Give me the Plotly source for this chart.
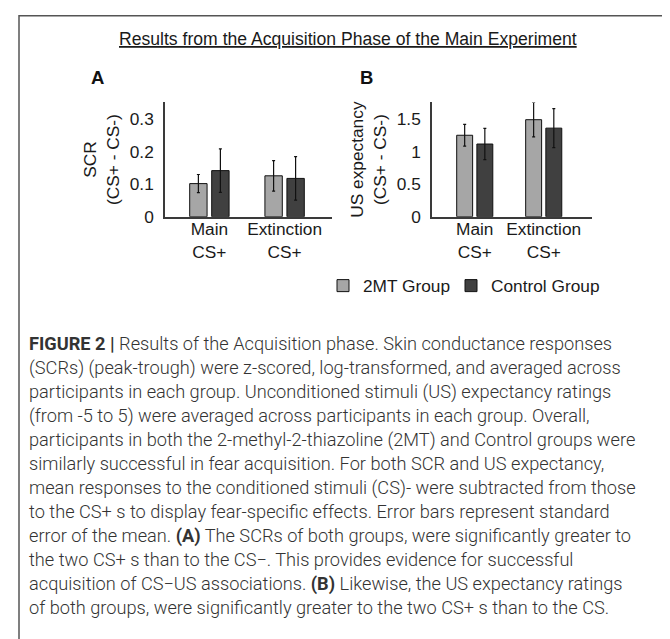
import plotly.graph_objects as go

W, H = 670, 639

# ---------------- data ----------------
categories = ["Main CS+", "Extinction CS+"]
category_labels = ["Main<br>CS+", "Extinction<br>CS+"]
groups = ["2MT Group", "Control Group"]

scr_2mt = [0.102, 0.126]
scr_2mt_se = [0.028, 0.047]
scr_ctrl = [0.142, 0.118]
scr_ctrl_se = [0.067, 0.067]

us_2mt = [1.255, 1.495]
us_2mt_se = [0.167, 0.265]
us_ctrl = [1.12, 1.365]
us_ctrl_se = [0.24, 0.30]

scr_ticks = [0, 0.1, 0.2, 0.3]
scr_ticktext = ["0", "0.1", "0.2", "0.3"]
us_ticks = [0, 0.5, 1, 1.5]
us_ticktext = ["0", "0.5", "1", "1.5"]

title_text = "Results from the Acquisition Phase of the Main Experiment"
caption_lines = [
    "<b>FIGURE 2 |</b> Results of the Acquisition phase. Skin conductance responses",
    "(SCRs) (peak-trough) were z-scored, log-transformed, and averaged across",
    "participants in each group. Unconditioned stimuli (US) expectancy ratings",
    "(from -5 to 5) were averaged across participants in each group. Overall,",
    "participants in both the 2-methyl-2-thiazoline (2MT) and Control groups were",
    "similarly successful in fear acquisition. For both SCR and US expectancy,",
    "mean responses to the conditioned stimuli (CS)- were subtracted from those",
    "to the CS+ s to display fear-specific effects. Error bars represent standard",
    "error of the mean. <b>(A)</b> The SCRs of both groups, were significantly greater to",
    "the two CS+ s than to the CS\u2212. This provides evidence for successful",
    "acquisition of CS\u2212US associations. <b>(B)</b> Likewise, the US expectancy ratings",
    "of both groups, were significantly greater to the two CS+ s than to the CS.",
]

# ---------------- styling ----------------
C_2MT = "#a6a6a6"
C_CTRL = "#404040"
ARIAL = "Liberation Sans, Arial, sans-serif"
AX_FONT = dict(family=ARIAL, size=17.3, color="#1a1a1a")
CAP_FONT = dict(family="Roboto, sans-serif", size=18.2, color="#333333", weight=300)


def px(x):
    return x / W


def py(y):
    return 1 - y / H


fig = go.Figure()

bar_line = dict(color="#111111", width=1)
err_style = dict(type="data", color="#111111", thickness=1.2, width=1.5, visible=True)

fig.add_trace(go.Bar(x=categories, y=scr_2mt, name=groups[0], marker=dict(color=C_2MT, line=bar_line),
                     error_y=dict(array=scr_2mt_se, **err_style), xaxis="x", yaxis="y",
                     legendgroup="a", legend="legend"))
fig.add_trace(go.Bar(x=categories, y=scr_ctrl, name=groups[1], marker=dict(color=C_CTRL, line=bar_line),
                     error_y=dict(array=scr_ctrl_se, **err_style), xaxis="x", yaxis="y",
                     legendgroup="b", legend="legend2"))
fig.add_trace(go.Bar(x=categories, y=us_2mt, name=groups[0], marker=dict(color=C_2MT, line=bar_line),
                     error_y=dict(array=us_2mt_se, **err_style), xaxis="x2", yaxis="y2",
                     legendgroup="a", showlegend=False))
fig.add_trace(go.Bar(x=categories, y=us_ctrl, name=groups[1], marker=dict(color=C_CTRL, line=bar_line),
                     error_y=dict(array=us_ctrl_se, **err_style), xaxis="x2", yaxis="y2",
                     legendgroup="b", showlegend=False))

y_dom = [py(212), py(96)]
axis_line = dict(showline=True, linecolor="#3a3a3a", linewidth=1.5, showgrid=False, zeroline=False,
                 tickfont=AX_FONT, ticks="")
legend_style = dict(orientation="h", xanchor="left", yanchor="top", font=AX_FONT, itemwidth=30,
                    bgcolor="rgba(0,0,0,0)")

fig.update_layout(
    width=W, height=H,
    margin=dict(l=0, r=0, t=0, b=0),
    paper_bgcolor="white", plot_bgcolor="white",
    barmode="group", bargap=0.415, bargroupgap=0.21,
    showlegend=True,
    legend=dict(x=px(315), y=py(264), **legend_style),
    legend2=dict(x=px(443), y=py(264), **legend_style),
    xaxis=dict(domain=[px(157), px(324)], anchor="y", type="category", range=[-0.59, 1.63],
               tickvals=categories, ticktext=category_labels, ticklabelstandoff=-4, **axis_line),
    yaxis=dict(domain=y_dom, anchor="x", range=[0, 0.352], tickvals=scr_ticks, ticktext=scr_ticktext,
               ticklabelstandoff=6,
               title=dict(text="SCR<br>(CS+ - CS-)", font=AX_FONT, standoff=6), **axis_line),
    xaxis2=dict(domain=[px(424), px(584)], anchor="y2", type="category", range=[-0.62, 1.70],
                tickvals=categories, ticktext=category_labels, ticklabelstandoff=-4, **axis_line),
    yaxis2=dict(domain=y_dom, anchor="x2", range=[0, 1.76], tickvals=us_ticks, ticktext=us_ticktext,
                ticklabelstandoff=6,
                title=dict(text="US expectancy<br>(CS+ - CS-)", font=AX_FONT, standoff=6), **axis_line),
)

annotations = [
    dict(text=title_text, x=px(340), y=py(32), xref="paper", yref="paper", showarrow=False,
         font=dict(family=ARIAL, size=17.6, color="#1a1a1a", lineposition="under"),
         xanchor="center", yanchor="middle"),
    dict(text="<b>A</b>", x=px(81), y=py(71), xref="paper", yref="paper", showarrow=False,
         font=dict(family=ARIAL, size=18.5, color="#111111"),
         xanchor="left", yanchor="middle"),
    dict(text="<b>B</b>", x=px(350), y=py(71), xref="paper", yref="paper", showarrow=False,
         font=dict(family=ARIAL, size=18.5, color="#111111"),
         xanchor="left", yanchor="middle"),
]
for i, line in enumerate(caption_lines):
    annotations.append(dict(text=line, x=px(19), y=py(341 + 24.4 * i), xref="paper", yref="paper",
                            showarrow=False, font=CAP_FONT, xanchor="left", yanchor="middle", align="left"))
fig.update_layout(annotations=annotations)

# figure frame
fig.add_shape(type="rect", xref="paper", yref="paper", x0=px(11), x1=px(668), y0=py(650), y1=py(8),
              line=dict(color="#555555", width=1.5), fillcolor="rgba(0,0,0,0)", layer="below")

fig.write_html("out.html")
